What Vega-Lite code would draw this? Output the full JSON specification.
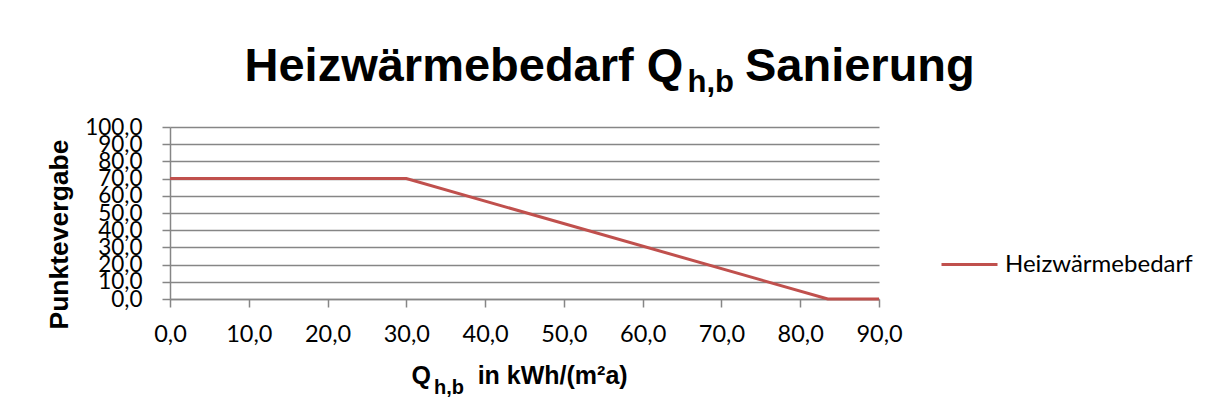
{
  "$schema": "https://vega.github.io/schema/vega-lite/v6.json",
  "autosize": {"type": "none"},
  "padding": {"left": 170, "top": 127, "right": 330, "bottom": 118},
  "width": 709,
  "height": 172,
  "background": "white",
  "title": {
    "text": "Heizwärmebedarf Q\u00a0\u00a0\u00a0\u00a0\u2009Sanierung",
    "font": "Liberation Sans",
    "fontSize": 47,
    "fontWeight": "bold",
    "color": "#000000",
    "anchor": "start",
    "frame": "group",
    "baseline": "alphabetic",
    "dx": 74.5,
    "dy": 62,
    "offset": 0
  },
  "data": {
    "values": [
      {"q": 0, "p": 70, "s": "Heizwärmebedarf"},
      {"q": 30, "p": 70, "s": "Heizwärmebedarf"},
      {"q": 83.5, "p": 0, "s": "Heizwärmebedarf"},
      {"q": 90, "p": 0, "s": "Heizwärmebedarf"}
    ]
  },
  "layer": [
    {
      "mark": {"type": "line", "strokeWidth": 3},
      "encoding": {
        "x": {
          "field": "q", "type": "quantitative",
          "scale": {"domain": [0, 90], "nice": false, "zero": false},
          "axis": {
            "orient": "bottom",
            "values": [0, 10, 20, 30, 40, 50, 60, 70, 80, 90],
            "grid": false,
            "labelFlush": false,
            "labelExpr": "replace(format(datum.value, '.1f'), '.', ',')",
            "labelPadding": 15,
            "labelFontSize": 23.5,
            "title": "Q\u00a0\u00a0\u00a0\u00a0\u00a0\u00a0\u2009in kWh/(m²a)",
            "titleFont": "Liberation Sans",
            "titleFontSize": 25,
            "titleFontWeight": "bold",
            "titleAlign": "left",
            "titleBaseline": "alphabetic",
            "titleX": 241,
            "titleY": 84
          }
        },
        "y": {
          "field": "p", "type": "quantitative",
          "scale": {"domain": [0, 100], "nice": false},
          "axis": {
            "orient": "left",
            "values": [0, 10, 20, 30, 40, 50, 60, 70, 80, 90, 100],
            "grid": true,
            "labelFlush": false,
            "labelExpr": "replace(format(datum.value, '.1f'), '.', ',')",
            "labelOverlap": false,
            "labelPadding": 20,
            "title": "Punktevergabe",
            "titleFont": "Liberation Sans",
            "titleFontSize": 26.5,
            "titleFontWeight": "bold",
            "titleAngle": 270,
            "titleAlign": "center",
            "titleBaseline": "alphabetic",
            "titleX": -103,
            "titleY": 107
          }
        },
        "color": {
          "field": "s", "type": "nominal",
          "scale": {"range": ["#C0504D"]},
          "legend": {
            "title": null,
            "orient": "none",
            "legendX": 770,
            "legendY": 108,
            "symbolType": "stroke",
            "symbolSize": 3136,
            "symbolStrokeWidth": 3,
            "labelFont": "Lato",
            "labelFontSize": 24,
            "labelLimit": 400,
            "labelColor": "#000000",
            "labelOffset": 6
          }
        }
      }
    },
    {
      "mark": {"type": "line", "opacity": 0},
      "encoding": {
        "x": {
          "field": "q", "type": "quantitative",
          "axis": {
            "orient": "top",
            "domain": false, "ticks": false, "labels": false, "grid": false,
            "title": "h,b",
            "titleFont": "Liberation Sans",
            "titleFontSize": 31,
            "titleFontWeight": "bold",
            "titleAngle": 0,
            "titleAlign": "left",
            "titleBaseline": "alphabetic",
            "titleX": 517,
            "titleY": -36
          }
        },
        "y": {
          "field": "p", "type": "quantitative",
          "axis": {
            "orient": "right",
            "domain": false, "ticks": false, "labels": false, "grid": false,
            "title": "h,b",
            "titleFont": "Liberation Sans",
            "titleFontSize": 20,
            "titleFontWeight": "bold",
            "titleAngle": 0,
            "titleAlign": "left",
            "titleBaseline": "alphabetic",
            "titleX": -445.4,
            "titleY": 266
          }
        }
      }
    }
  ],
  "resolve": {"axis": {"x": "independent", "y": "independent"}},
  "config": {
    "view": {"stroke": null},
    "axis": {
      "domainColor": "#868686",
      "domainWidth": 1.5,
      "gridColor": "#868686",
      "gridWidth": 1.5,
      "tickColor": "#868686",
      "tickWidth": 1.5,
      "tickSize": 8,
      "labelFont": "Lato",
      "labelFontSize": 22.5,
      "labelColor": "#000000",
      "titleColor": "#000000"
    }
  }
}
